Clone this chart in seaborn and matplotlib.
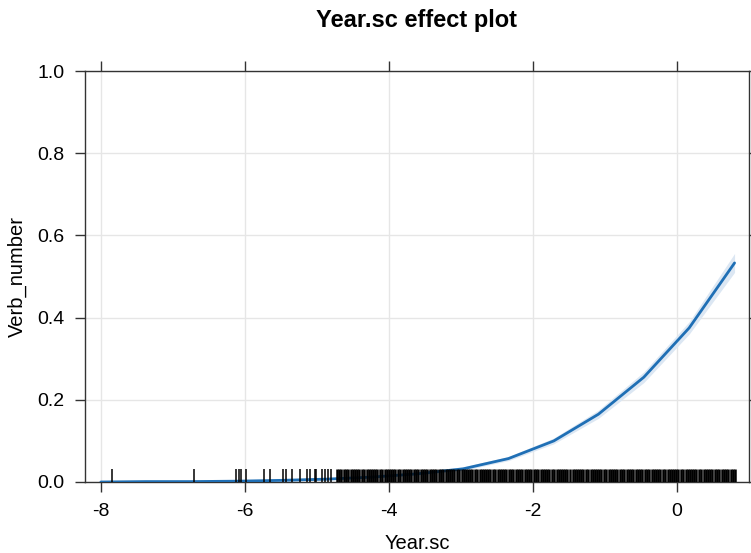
import numpy as np
import pandas as pd
import matplotlib
matplotlib.use('Agg')
import matplotlib.pyplot as plt
import seaborn as sns

# effect curve
year_sc = [-8.0, -7.37, -6.74, -6.11, -5.49, -4.86, -4.23, -3.6, -2.97, -2.34, -1.71, -1.09, -0.46, 0.17, 0.8]
fit = [0.000, 0.001, 0.001, 0.002, 0.004, 0.007, 0.012, 0.020, 0.032, 0.057, 0.100, 0.165, 0.255, 0.375, 0.533]
lower = [0.000, 0.000, 0.000, 0.001, 0.002, 0.005, 0.009, 0.017, 0.028, 0.052, 0.093, 0.155, 0.242, 0.360, 0.510]
upper = [0.001, 0.002, 0.003, 0.004, 0.006, 0.010, 0.015, 0.024, 0.037, 0.062, 0.107, 0.175, 0.268, 0.390, 0.556]

# observed Year.sc values for the rug
rug_sparse = [-7.85, -6.70, -6.13, -6.08, -6.06, -5.99, -5.74, -5.65, -5.47, -5.43, -5.35,
              -5.24, -5.14, -5.10, -5.03, -5.01, -4.93, -4.89, -4.84, -4.80]
rug_dense = [-4.72, -4.69, -4.66, -4.63, -4.60, -4.57, -4.53, -4.50, -4.47, -4.44, -4.41, -4.38,
             -4.35, -4.31, -4.28, -4.25, -4.22, -4.19, -4.16, -4.13, -4.09, -4.06, -4.03, -4.00,
             -3.97, -3.94, -3.91, -3.87, -3.84, -3.81, -3.78, -3.75, -3.72, -3.69, -3.65, -3.62,
             -3.59, -3.56, -3.53, -3.50, -3.47, -3.43, -3.40, -3.37, -3.34, -3.31, -3.28, -3.25,
             -3.21, -3.18, -3.15, -3.12, -3.09, -3.06, -3.03, -2.99, -2.96, -2.93, -2.90, -2.87,
             -2.84, -2.81, -2.77, -2.74, -2.71, -2.68, -2.65, -2.62, -2.59, -2.55, -2.52, -2.49,
             -2.46, -2.43, -2.40, -2.37, -2.33, -2.30, -2.27, -2.24, -2.21, -2.18, -2.15, -2.11,
             -2.08, -2.05, -2.02, -1.99, -1.96, -1.93, -1.89, -1.86, -1.83, -1.80, -1.77, -1.74,
             -1.71, -1.67, -1.64, -1.61, -1.58, -1.55, -1.52, -1.49, -1.45, -1.42, -1.39, -1.36,
             -1.33, -1.30, -1.27, -1.23, -1.20, -1.17, -1.14, -1.11, -1.08, -1.05, -1.01, -0.98,
             -0.95, -0.92, -0.89, -0.86, -0.83, -0.79, -0.76, -0.73, -0.70, -0.67, -0.64, -0.61,
             -0.57, -0.54, -0.51, -0.48, -0.45, -0.42, -0.39, -0.35, -0.32, -0.29, -0.26, -0.23,
             -0.20, -0.17, -0.13, -0.10, -0.07, -0.04, -0.01, 0.02, 0.05, 0.09, 0.12, 0.15,
             0.18, 0.21, 0.24, 0.27, 0.31, 0.34, 0.37, 0.40, 0.43, 0.46, 0.49, 0.53,
             0.56, 0.59, 0.62, 0.65, 0.68, 0.71, 0.75, 0.78, 0.81]

x_ticks = [-8, -6, -4, -2, 0]
y_ticks = [0.0, 0.2, 0.4, 0.6, 0.8, 1.0]

sns.set_style('white')
plt.rcParams['font.family'] = ['Liberation Sans', 'DejaVu Sans']
plt.rcParams['axes.unicode_minus'] = False
plt.rcParams['text.color'] = 'black'
plt.rcParams['axes.labelcolor'] = 'black'
plt.rcParams['xtick.color'] = 'black'
plt.rcParams['ytick.color'] = 'black'

df = pd.DataFrame({'Year.sc': year_sc, 'Verb_number': fit})

fig = plt.figure(figsize=(7.51, 5.53), dpi=100)
ax = fig.add_axes([0.1132, 0.1284, 0.8841, 0.7432])

ax.fill_between(year_sc, lower, upper, color='#dce7f3', lw=0, zorder=2)
sns.lineplot(data=df, x='Year.sc', y='Verb_number', color='#1f6fb5', lw=2, ax=ax, zorder=3)
sns.rugplot(x=rug_sparse, height=0.032, color='black', linewidth=1.1, ax=ax,
            expand_margins=False, zorder=4)
sns.rugplot(x=rug_dense, height=0.032, color='black', linewidth=1.8, ax=ax,
            expand_margins=False, zorder=4)

ax.set_xlim(-8.22, 1.0)
ax.set_ylim(0, 1)
ax.set_xticks(x_ticks)
ax.set_yticks(y_ticks)
ax.set_yticklabels([f'{v:.1f}' for v in y_ticks])
ax.grid(True, color='#e6e6e6', lw=1)
ax.set_axisbelow(True)

for s in ax.spines.values():
    s.set_color('#333333')
    s.set_linewidth(1)
ax.tick_params(axis='both', which='both', direction='out', length=7, width=1, color='#333333',
               labelsize=14, pad=8, top=True, right=True, bottom=True, left=True,
               labeltop=False, labelright=False)

ax.set_xlabel('Year.sc', fontsize=14.5, labelpad=10)
ax.set_ylabel('Verb_number', fontsize=14.5, labelpad=7)
ax.set_title('Year.sc effect plot', fontsize=17, fontweight='bold', pad=32)

fig.savefig('out.png', dpi=100)
